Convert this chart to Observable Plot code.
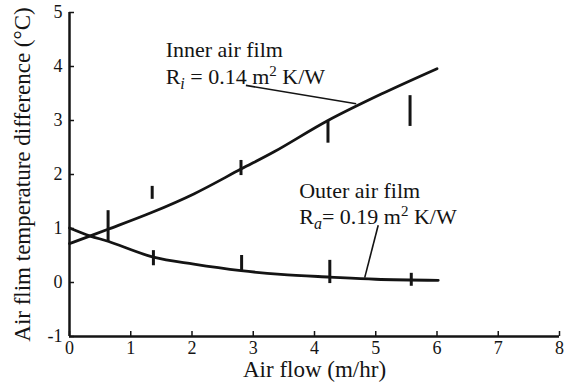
<!DOCTYPE html>
<html><head><meta charset="utf-8">
<script src="https://cdn.jsdelivr.net/npm/d3@7"></script>
<script src="https://cdn.jsdelivr.net/npm/@observablehq/plot@0.6"></script>
<style>body{margin:0;background:#fff} svg text{font-family:"Liberation Serif","Times New Roman",serif !important}</style>
</head><body><div id="chart"></div>
<script>
// Inner air film curve
const innerX = [0, 0.64, 1.35, 2.03, 2.8, 3.34, 4.22, 5.09, 6.0];
const innerY = [0.72, 0.99, 1.3, 1.64, 2.1, 2.42, 3.0, 3.49, 3.96];
// Outer air film curve
const outerX = [0, 0.34, 0.64, 1.37, 2.03, 2.8, 3.45, 4.25, 5.0, 6.02];
const outerY = [1.01, 0.86, 0.76, 0.47, 0.34, 0.22, 0.15, 0.1, 0.06, 0.04];
// Measured ranges (vertical bars)
const barX    = [0.63, 1.35, 2.8, 4.22, 5.56, 1.37, 2.81, 4.25, 5.58];
const barLow  = [0.76, 1.54, 1.98, 2.58, 2.89, 0.31, 0.22, -0.02, -0.07];
const barHigh = [1.33, 1.78, 2.26, 3.0, 3.46, 0.59, 0.5, 0.41, 0.17];
// Annotation labels
const labelText = ["Inner air film", "Ri = 0.14 m2 K/W", "Outer air film", "Ra= 0.19 m2 K/W"];
const labelX = [1.57, 1.57, 3.75, 3.75];
const labelY = [4.31, 3.80, 1.70, 1.21];
// Leader lines
const leaderX1 = [2.88, 5.04];
const leaderY1 = [3.65, 1.06];
const leaderX2 = [4.68, 4.82];
const leaderY2 = [3.31, 0.09];
// Ticks
const xTicks = [0, 1, 2, 3, 4, 5, 6, 7, 8];
const yTicks = [-1, 0, 1, 2, 3, 4, 5];
const xTitle = "Air flow (m/hr)";
const yTitle = "Air flim temperature difference (°C)";

const inner = innerX.map((x, i) => ({x, y: innerY[i]}));
const outer = outerX.map((x, i) => ({x, y: outerY[i]}));
const bars = barX.map((x, i) => ({x, y1: barLow[i], y2: barHigh[i]}));
const labels = labelText.map((t, i) => ({t, x: labelX[i], y: labelY[i]}));
const leaders = leaderX1.map((x1, i) => ({x1, y1: leaderY1[i], x2: leaderX2[i], y2: leaderY2[i]}));

const ink = "#141414";
const serif = "Liberation Serif";
const fmt = d => String(d);
const chart = Plot.plot({
  width: 565, height: 387,
  marginLeft: 69, marginRight: 6, marginTop: 12, marginBottom: 51,
  style: {fontFamily: serif, background: "#fff", color: ink},
  x: {domain: [0, 8]},
  y: {domain: [-1, 5]},
  marks: [
    Plot.axisX(xTicks, {tickSize: -5, tickPadding: 10, fontSize: 18, fontFamily: serif, fontVariant: "normal", tickFormat: fmt, label: null, stroke: ink, strokeWidth: 1.5}),
    Plot.axisY(yTicks, {tickSize: -5, tickPadding: 12, fontSize: 18, fontFamily: serif, fontVariant: "normal", tickFormat: fmt, label: null, stroke: ink, strokeWidth: 1.5}),
    Plot.ruleX([0], {stroke: ink, strokeWidth: 2.5}),
    Plot.ruleY([-1], {stroke: ink, strokeWidth: 2.5}),
    Plot.line(inner, {x: "x", y: "y", curve: "catmull-rom", stroke: ink, strokeWidth: 2.8}),
    Plot.line(outer, {x: "x", y: "y", curve: "catmull-rom", stroke: ink, strokeWidth: 2.8}),
    Plot.ruleX(bars, {x: "x", y1: "y1", y2: "y2", stroke: ink, strokeWidth: 3}),
    Plot.link(leaders, {x1: "x1", y1: "y1", x2: "x2", y2: "y2", stroke: ink, strokeWidth: 1.6}),
    Plot.text(labels, {x: "x", y: "y", text: "t", textAnchor: "start", fontSize: 22, fontFamily: serif, fill: ink}),
    Plot.text([xTitle], {frameAnchor: "bottom", textAnchor: "middle", dy: 40, fontSize: 23, fontFamily: serif, fill: ink}),
    Plot.text([yTitle], {frameAnchor: "left", textAnchor: "middle", rotate: -90, dx: -47, fontSize: 23, fontFamily: serif, fill: ink})
  ]
});

// subscripts / superscripts in annotation labels
d3.select(chart).selectAll("text").each(function() {
  const el = this;
  const s = el.textContent;
  if (/^R[ia]/.test(s)) {
    const sub = s[1];
    const rest = s.slice(2);
    const m = rest.match(/^(.*m)2( K\/W)$/);
    const sel = d3.select(el);
    const tsp = sel.select("tspan").empty() ? sel : sel.select("tspan");
    tsp.text(null);
    tsp.append("tspan").text("R");
    tsp.append("tspan").attr("font-style", "italic").attr("font-size", "16px").attr("dy", "5").text(sub);
    tsp.append("tspan").attr("dy", "-5").text(m[1]);
    tsp.append("tspan").attr("font-size", "15px").attr("dy", "-8").text("2");
    tsp.append("tspan").attr("dy", "8").text(m[2]);
  }
});
document.getElementById("chart").append(chart);
</script>
</body></html>
